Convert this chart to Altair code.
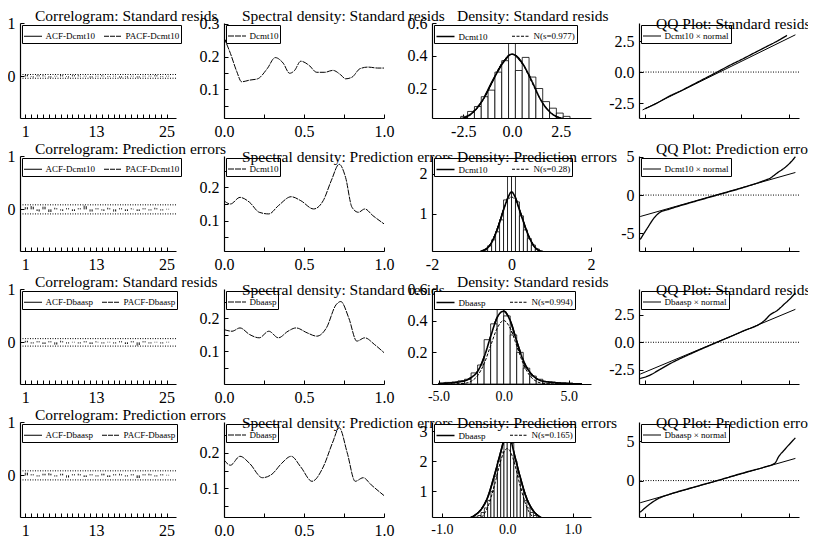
import altair as alt
import pandas as pd

FONT = "Liberation Serif"
WIDTHS = [156, 160, 159, 160]
H = 95
TITLE_DX = [15, 18, 25, 17]

names = ["Dcmt10", "Dcmt10", "Dbaasp", "Dbaasp"]
kinds = ["Standard resids", "Prediction errors", "Standard resids", "Prediction errors"]

# ---------------- correlograms ----------------
lags = list(range(1, 26))
acf_1 = [0.03, -0.01, 0.02, 0.02, -0.02, 0.01, 0.03, -0.01, 0.02, 0.02, 0.01, -0.02, 0.01,
         0.02, -0.01, 0.01, -0.02, -0.01, 0.01, -0.02, 0.01, 0.01, 0.02, -0.01, 0.01]
pacf_1 = [0.03, -0.02, 0.02, 0.01, -0.02, 0.01, 0.02, -0.02, 0.02, 0.01, 0.01, -0.02, 0.01,
          0.01, -0.01, 0.01, -0.02, -0.02, 0.01, -0.02, 0.01, 0.01, 0.02, -0.01, 0.01]
acf_2 = [0.04, 0.06, -0.03, 0.05, -0.05, 0.03, -0.02, 0.02, -0.03, 0.02, 0.07, -0.04, 0.02,
         -0.02, 0.03, -0.04, 0.02, -0.03, 0.02, -0.03, 0.02, -0.02, 0.03, -0.02, 0.01]
pacf_2 = [0.04, 0.05, -0.04, 0.05, -0.05, 0.02, -0.03, 0.02, -0.03, 0.02, 0.06, -0.04, 0.02,
          -0.03, 0.02, -0.04, 0.02, -0.03, 0.01, -0.03, 0.02, -0.02, 0.02, -0.02, 0.01]
acf_3 = [0.03, -0.02, 0.02, -0.03, 0.02, -0.04, 0.03, -0.02, 0.01, -0.02, 0.02, -0.03, 0.02,
         -0.02, 0.01, -0.02, 0.02, -0.03, 0.02, -0.06, 0.02, -0.02, 0.01, -0.02, 0.01]
pacf_3 = [0.03, -0.02, 0.02, -0.03, 0.02, -0.04, 0.02, -0.02, 0.01, -0.02, 0.02, -0.03, 0.01,
          -0.02, 0.01, -0.02, 0.02, -0.03, 0.02, -0.05, 0.02, -0.02, 0.01, -0.02, 0.01]
acf_4 = [0.05, 0.02, -0.02, 0.03, 0.04, -0.02, 0.03, -0.04, 0.02, 0.03, -0.03, 0.02, -0.02,
         0.03, -0.03, 0.02, 0.03, -0.02, 0.02, -0.05, 0.02, 0.03, -0.02, 0.02, 0.01]
pacf_4 = [0.05, 0.02, -0.02, 0.03, 0.03, -0.02, 0.03, -0.04, 0.02, 0.02, -0.03, 0.02, -0.02,
          0.03, -0.03, 0.02, 0.02, -0.02, 0.02, -0.05, 0.02, 0.02, -0.02, 0.02, 0.01]
acfs = [acf_1, acf_2, acf_3, acf_4]
pacfs = [pacf_1, pacf_2, pacf_3, pacf_4]
bands = [0.035, 0.085, 0.07, 0.085]
corr_ylabels = [0, 1]
corr_xlabels = [1, 13, 25]

# ---------------- spectral densities ----------------
spec_x_1 = [0.0, 0.04, 0.08, 0.11, 0.16, 0.21, 0.27, 0.32, 0.37, 0.41, 0.44, 0.48, 0.53,
            0.58, 0.63, 0.68, 0.73, 0.76, 0.8, 0.85, 0.9, 0.96, 1.0]
spec_y_1 = [0.258, 0.21, 0.154, 0.123, 0.128, 0.132, 0.163, 0.197, 0.18, 0.149, 0.157, 0.186,
            0.174, 0.152, 0.152, 0.158, 0.144, 0.132, 0.137, 0.163, 0.168, 0.165, 0.165]
spec_x_2 = [0.0, 0.04, 0.1, 0.16, 0.22, 0.28, 0.34, 0.42, 0.48, 0.56, 0.62, 0.67, 0.72,
            0.76, 0.8, 0.84, 0.88, 0.93, 1.0]
spec_y_2 = [0.16, 0.15, 0.17, 0.155, 0.125, 0.12, 0.145, 0.172, 0.16, 0.135, 0.16, 0.22,
            0.27, 0.23, 0.14, 0.125, 0.135, 0.115, 0.09]
spec_x_3 = [0.0, 0.05, 0.1, 0.16, 0.22, 0.28, 0.34, 0.4, 0.45, 0.52, 0.58, 0.64, 0.7,
            0.73, 0.78, 0.83, 0.88, 0.94, 1.0]
spec_y_3 = [0.165, 0.16, 0.17, 0.15, 0.14, 0.16, 0.14, 0.16, 0.17, 0.155, 0.145, 0.17, 0.24,
            0.25, 0.2, 0.13, 0.14, 0.12, 0.095]
spec_x_4 = [0.0, 0.04, 0.1, 0.16, 0.24, 0.3, 0.36, 0.42, 0.48, 0.55, 0.62, 0.68, 0.72,
            0.77, 0.82, 0.87, 0.92, 1.0]
spec_y_4 = [0.18, 0.165, 0.19, 0.17, 0.13, 0.14, 0.17, 0.19, 0.16, 0.12, 0.16, 0.23, 0.27,
            0.2, 0.12, 0.13, 0.11, 0.08]
spec_xs = [spec_x_1, spec_x_2, spec_x_3, spec_x_4]
spec_ys = [spec_y_1, spec_y_2, spec_y_3, spec_y_4]
spec_ydom = [[0.012, 0.303], [0.008, 0.295], [0.0, 0.288], [0.02, 0.286]]
spec_yticks = [[0.05, 0.1, 0.15, 0.2, 0.25, 0.3], [0.05, 0.1, 0.15, 0.2, 0.25],
               [0.05, 0.1, 0.15, 0.2, 0.25], [0.05, 0.1, 0.15, 0.2, 0.25]]
spec_ylabels = [[0.1, 0.2, 0.3], [0.1, 0.2], [0.1, 0.2], [0.1, 0.2]]
spec_xticks = [0, 0.25, 0.5, 0.75, 1.0]
spec_xlabels = [0, 0.5, 1.0]

# ---------------- densities ----------------
hist_c_1 = [-3.5, -3.15, -2.8, -2.45, -2.1, -1.75, -1.4, -1.05, -0.7, -0.35, 0.0, 0.35, 0.7,
            1.05, 1.4, 1.75, 2.1, 2.45, 2.8, 3.15, 3.5]
hist_h_1 = [0.005, 0.008, 0.015, 0.03, 0.06, 0.09, 0.15, 0.19, 0.30, 0.37, 0.50, 0.31, 0.39,
            0.27, 0.20, 0.12, 0.08, 0.05, 0.03, 0.01, 0.005]
hist_c_2 = [-0.95, -0.85, -0.75, -0.65, -0.55, -0.45, -0.35, -0.25, -0.15, -0.05, 0.05, 0.15,
            0.25, 0.35, 0.45, 0.55, 0.65, 0.75, 0.85, 0.95]
hist_h_2 = [0.02, 0.03, 0.05, 0.1, 0.2, 0.35, 0.55, 0.85, 1.35, 1.95, 2.0, 1.3, 0.95, 0.6,
            0.38, 0.22, 0.12, 0.06, 0.04, 0.02]
hist_c_3 = [-4.75, -4.25, -3.75, -3.25, -2.75, -2.25, -1.75, -1.25, -0.75, -0.25, 0.25, 0.75,
            1.25, 1.75, 2.25, 2.75, 3.25, 3.75, 4.25, 4.75]
hist_h_3 = [0.005, 0.01, 0.01, 0.02, 0.03, 0.07, 0.12, 0.28, 0.38, 0.52, 0.43, 0.31, 0.2,
            0.1, 0.05, 0.03, 0.015, 0.01, 0.005, 0.005]
hist_c_4 = [-0.575, -0.525, -0.475, -0.425, -0.375, -0.325, -0.275, -0.225, -0.175, -0.125,
            -0.075, -0.025, 0.025, 0.075, 0.125, 0.175, 0.225, 0.275, 0.325, 0.375, 0.425,
            0.475, 0.525, 0.575]
hist_h_4 = [0.05, 0.1, 0.15, 0.2, 0.3, 0.45, 0.7, 1.0, 1.5, 2.0, 2.3, 2.9, 3.1, 2.6, 2.0,
            1.5, 1.05, 0.7, 0.45, 0.3, 0.2, 0.12, 0.08, 0.05]
hist_cs = [hist_c_1, hist_c_2, hist_c_3, hist_c_4]
hist_hs = [hist_h_1, hist_h_2, hist_h_3, hist_h_4]
bin_w = [0.35, 0.1, 0.5, 0.05]

dens_x_1 = [-4.0, -3.5, -3.0, -2.5, -2.0, -1.5, -1.0, -0.5, 0.0, 0.5, 1.0, 1.5, 2.0, 2.5, 3.0, 3.5, 4.0]
dens_y_1 = [0.0, 0.004, 0.01, 0.02, 0.055, 0.13, 0.245, 0.35, 0.41, 0.36, 0.25, 0.125, 0.05,
            0.02, 0.01, 0.005, 0.0]
norm_y_1 = [0.0, 0.0006, 0.0036, 0.0155, 0.0503, 0.1256, 0.2415, 0.358, 0.408, 0.358, 0.2415,
            0.1256, 0.0503, 0.0155, 0.0036, 0.0006, 0.0]
dens_x_2 = [-1.6, -1.2, -1.0, -0.8, -0.7, -0.6, -0.5, -0.4, -0.3, -0.2, -0.1, 0.0, 0.1, 0.2,
            0.3, 0.4, 0.5, 0.6, 0.7, 0.8, 1.0, 1.2, 1.6]
dens_y_2 = [0.01, 0.015, 0.02, 0.05, 0.09, 0.15, 0.28, 0.5, 0.78, 1.1, 1.38, 1.55, 1.4, 1.1,
            0.8, 0.52, 0.3, 0.15, 0.08, 0.05, 0.025, 0.015, 0.01]
norm_y_2 = [0.0, 0.0, 0.0024, 0.024, 0.0625, 0.144, 0.29, 0.514, 0.803, 1.104, 1.336, 1.425,
            1.336, 1.104, 0.803, 0.514, 0.29, 0.144, 0.0625, 0.024, 0.0024, 0.0, 0.0]
dens_x_3 = [-5.0, -4.0, -3.0, -2.5, -2.0, -1.5, -1.0, -0.5, 0.0, 0.5, 1.0, 1.5, 2.0, 2.5, 3.0,
            4.0, 5.0, 6.0]
dens_y_3 = [0.002, 0.008, 0.02, 0.04, 0.08, 0.17, 0.3, 0.42, 0.46, 0.4, 0.27, 0.15, 0.075,
            0.035, 0.018, 0.008, 0.003, 0.001]
norm_y_3 = [0.0, 0.0001, 0.0042, 0.017, 0.053, 0.1285, 0.242, 0.352, 0.401, 0.352, 0.242,
            0.1285, 0.053, 0.017, 0.0042, 0.0001, 0.0, 0.0]
dens_x_4 = [-1.0, -0.8, -0.6, -0.5, -0.4, -0.3, -0.2, -0.1, -0.05, 0.0, 0.05, 0.1, 0.2, 0.3,
            0.4, 0.5, 0.6, 0.8, 1.0, 1.2]
dens_y_4 = [0.02, 0.03, 0.1, 0.2, 0.4, 0.8, 1.5, 2.3, 2.7, 2.95, 2.75, 2.3, 1.45, 0.75, 0.35,
            0.15, 0.07, 0.03, 0.02, 0.01]
norm_y_4 = [0.0, 0.0, 0.003, 0.025, 0.129, 0.464, 1.16, 2.01, 2.31, 2.418, 2.31, 2.01, 1.16,
            0.464, 0.129, 0.025, 0.003, 0.0, 0.0, 0.0]
dens_xs = [dens_x_1, dens_x_2, dens_x_3, dens_x_4]
dens_ys = [dens_y_1, dens_y_2, dens_y_3, dens_y_4]
norm_ys = [norm_y_1, norm_y_2, norm_y_3, norm_y_4]
norm_s = ["0.977", "0.28", "0.994", "0.165"]
dens_xdom = [[-4.1, 4.05], [-2.0, 2.0], [-5.5, 6.7], [-1.15, 1.28]]
dens_ydom = [[0.02, 0.6], [0.07, 2.45], [0.0, 0.6], [0.15, 3.3]]
dens_xlabels = [[-2.5, 0.0, 2.5], [-2, -1, 0, 1, 2], [-5.0, -2.5, 0.0, 2.5, 5.0], [-1.0, -0.5, 0.0, 0.5, 1.0]]
dens_xfmt = [".1f", "d", ".1f", ".1f"]
dens_xfont = [16, 16, 14, 14]
dens_ylabels = [[0.2, 0.4, 0.6], [1, 2], [0.2, 0.4, 0.6], [1, 2, 3]]
dens_yfmt = [".1f", "d", ".1f", "d"]

# ---------------- QQ plots ----------------
ref_x = [[-3.1, 3.25], [-3.2, 3.25], [-3.2, 3.25], [-3.2, 3.25]]
ref_y = [[-3.05, 3.0], [-2.8, 2.95], [-2.9, 3.0], [-2.8, 2.8]]
qq_x_1 = [-3.0, -2.5, -2.0, -1.5, -1.0, -0.5, 0.0, 0.5, 1.0, 1.5, 2.0, 2.5, 2.9]
qq_y_1 = [-2.95, -2.5, -1.95, -1.5, -1.0, -0.5, 0.0, 0.52, 1.0, 1.5, 2.0, 2.5, 2.95]
qq_x_2 = [-3.2, -2.9, -2.6, -2.4, -2.0, -1.0, 0.0, 1.0, 2.0, 2.2, 2.5, 2.78, 3.0, 3.25]
qq_y_2 = [-5.8, -4.3, -2.9, -2.3, -1.85, -0.9, 0.0, 0.9, 1.95, 2.2, 2.9, 3.5, 4.1, 5.0]
qq_x_3 = [-3.2, -2.8, -2.4, -2.0, -1.0, 0.0, 1.0, 2.0, 2.2, 2.5, 2.8, 3.0, 3.25]
qq_y_3 = [-3.3, -3.0, -2.5, -2.0, -0.95, 0.0, 0.95, 2.05, 2.5, 2.9, 3.5, 3.9, 4.5]
qq_x_4 = [-3.2, -2.9, -2.4, -2.0, -1.0, 0.0, 1.0, 2.0, 2.4, 2.55, 2.8, 3.25]
qq_y_4 = [-4.0, -3.2, -2.2, -1.75, -0.85, 0.0, 0.9, 1.75, 2.2, 3.0, 3.9, 5.4]
qq_xs = [qq_x_1, qq_x_2, qq_x_3, qq_x_4]
qq_ys = [qq_y_1, qq_y_2, qq_y_3, qq_y_4]
qq_ydom = [[-3.7, 3.95], [-7.3, 5.1], [-3.8, 4.85], [-4.6, 7.4]]
qq_yticks = [[-2.5, -1.25, 0.0, 1.25, 2.5, 3.75], [-5, -2.5, 0, 2.5, 5], [-2.5, -1.25, 0.0, 1.25, 2.5, 3.75],
             [0, 5]]
qq_ylabels = [[-2.5, 0.0, 2.5], [-5, 0, 5], [-2.5, 0.0, 2.5], [0, 5]]
qq_yfmt = [".1f", "d", ".1f", "d"]
qq_xticks = [-3.0, -2.5, -2.0, -1.5, -1.0, -0.5, 0.0, 0.5, 1.0, 1.5, 2.0, 2.5, 3.0]
qq_xlabels = [-2.5, 0.0, 2.5]


def axis(values, labeled, fmt, orient, size=16):
    kw = {}
    if list(values) != list(labeled):
        arr = "[" + ",".join(repr(float(v)) for v in labeled) + "]"
        kw["labelExpr"] = "indexof(" + arr + ", datum.value) >= 0 ? datum.label : ''"
    return alt.Axis(values=values, format=fmt, title=None, grid=False, orient=orient,
                    tickSize={"expr": "-4"}, labelPadding=9, labelOverlap=False, labelSeparation=-60,
                    labelFlush=False, labelBound=False, labelFont=FONT, labelFontSize=size, **kw)


def legend(col_pad):
    return alt.Legend(title=None, orient="top-left", direction="horizontal", offset=2,
                      strokeColor="black", fillColor="white", padding=1.5,
                      labelFont=FONT, labelFontSize=9, labelColor="black", labelOffset=3,
                      symbolType="stroke", symbolSize=324, symbolStrokeWidth=1,
                      symbolStrokeColor="black", columnPadding=col_pad, cornerRadius=0)


def title(text, col):
    return alt.TitleParams(text=text, anchor="start", frame="group", dx=TITLE_DX[col], offset=-21,
                           baseline="alphabetic", font=FONT, fontSize=15.5,
                           fontWeight="normal", color="black")


def correlogram(r):
    nm = names[r]
    dash_dom = ["ACF-" + nm, "PACF-" + nm]
    df = pd.DataFrame({"lag": lags + lags, "value": acfs[r] + pacfs[r],
                       "series": [dash_dom[0]] * 25 + [dash_dom[1]] * 25})
    bdf = pd.DataFrame({"band": [bands[r], -bands[r]]})
    ys = alt.Scale(domain=[-0.78, 1.0], nice=False, zero=False)
    spikes = alt.Chart(df).transform_calculate(
        xpos="datum.lag + (indexof(datum.series, 'PACF') == 0 ? 0.35 : 0)"
    ).mark_rule(color="black", strokeWidth=1).encode(
        x=alt.X("xpos:Q", scale=alt.Scale(domain=[0.1, 26.6], nice=False, zero=False),
                axis=axis(lags, corr_xlabels, "d", "bottom")),
        y=alt.Y("value:Q", scale=ys, axis=axis(corr_ylabels, corr_ylabels, "d", "left")), y2=alt.datum(0),
        strokeDash=alt.StrokeDash("series:N", scale=alt.Scale(domain=dash_dom, range=[[1, 0], [5, 1]]),
                                  legend=legend(6)))
    band = alt.Chart(bdf).mark_rule(color="black", strokeDash=[1, 1.5], strokeWidth=1).encode(
        y=alt.Y("band:Q", scale=ys))
    return alt.layer(spikes, band).properties(
        width=WIDTHS[0], height=H, title=title("Correlogram: " + kinds[r], 0))


def spectral(r):
    nm = names[r]
    df = pd.DataFrame({"f": spec_xs[r], "d": spec_ys[r], "series": nm})
    return alt.Chart(df).mark_line(color="black", strokeWidth=1, interpolate="monotone", clip=True).encode(
        x=alt.X("f:Q", scale=alt.Scale(domain=[0, 1], nice=False),
                axis=axis(spec_xticks, spec_xlabels, ".1f", "bottom")),
        y=alt.Y("d:Q", scale=alt.Scale(domain=spec_ydom[r], nice=False, zero=False),
                axis=axis(spec_yticks[r], spec_ylabels[r], ".1f", "left")),
        strokeDash=alt.StrokeDash("series:N", scale=alt.Scale(domain=[nm], range=[[6, 1]]),
                                  legend=legend(10)),
    ).properties(width=WIDTHS[1], height=H, title=title("Spectral density: " + kinds[r], 1))


def density(r):
    nm = names[r]
    nlab = "N(s=" + norm_s[r] + ")"
    hdf = pd.DataFrame({"c": hist_cs[r], "h": hist_hs[r], "w": bin_w[r]})
    n = len(dens_xs[r])
    ldf = pd.DataFrame({"x": dens_xs[r] + dens_xs[r], "y": dens_ys[r] + norm_ys[r],
                        "series": [nm] * n + [nlab] * n})
    xs = alt.Scale(domain=dens_xdom[r], nice=False, zero=False)
    ys = alt.Scale(domain=dens_ydom[r], nice=False, zero=False)
    bars = alt.Chart(hdf).transform_calculate(
        x1="datum.c - datum.w / 2", x2="datum.c + datum.w / 2"
    ).mark_bar(fill="white", stroke="black", strokeWidth=0.8, clip=True).encode(
        x=alt.X("x1:Q", scale=xs), x2="x2:Q",
        y=alt.Y("h:Q", scale=ys), y2=alt.datum(0))
    lines = alt.Chart(ldf).mark_line(color="black", interpolate="monotone", clip=True).encode(
        x=alt.X("x:Q", scale=xs,
                axis=axis(dens_xlabels[r], dens_xlabels[r], dens_xfmt[r], "bottom", dens_xfont[r])),
        y=alt.Y("y:Q", scale=ys, axis=axis(dens_ylabels[r], dens_ylabels[r], dens_yfmt[r], "left")),
        strokeDash=alt.StrokeDash("series:N", scale=alt.Scale(domain=[nm, nlab], range=[[1, 0], [3, 1.5]]),
                                  legend=legend(22)),
        strokeWidth=alt.StrokeWidth("series:N", scale=alt.Scale(domain=[nm, nlab], range=[1.6, 1]),
                                    legend=None),
    )
    return alt.layer(lines, bars, lines).properties(
        width=WIDTHS[2], height=H, title=title("Density: " + kinds[r], 2))


def qqplot(r):
    nm = names[r]
    lab = nm + " \u00d7 normal"
    xs = alt.Scale(domain=[-3.25, 3.4], nice=False, zero=False)
    ys = alt.Scale(domain=qq_ydom[r], nice=False, zero=False)
    rdf = pd.DataFrame({"x": ref_x[r], "y": ref_y[r]})
    qdf = pd.DataFrame({"x": qq_xs[r], "y": qq_ys[r], "series": lab})
    zdf = pd.DataFrame({"z": [0.0]})
    data = alt.Chart(qdf).mark_line(color="black", strokeWidth=1.3, interpolate="monotone", clip=True).encode(
        x=alt.X("x:Q", scale=xs, axis=axis(qq_xticks, qq_xlabels, ".1f", "bottom")),
        y=alt.Y("y:Q", scale=ys, axis=axis(qq_yticks[r], qq_ylabels[r], qq_yfmt[r], "left")),
        strokeDash=alt.StrokeDash("series:N", scale=alt.Scale(domain=[lab], range=[[1, 0]]),
                                  legend=legend(10)))
    zero = alt.Chart(zdf).mark_rule(color="black", strokeDash=[1, 1.5], strokeWidth=1).encode(
        y=alt.Y("z:Q", scale=ys))
    ref = alt.Chart(rdf).mark_line(color="black", strokeWidth=1, clip=True).encode(
        x=alt.X("x:Q", scale=xs), y=alt.Y("y:Q", scale=ys))
    return alt.layer(data, zero, ref).properties(
        width=WIDTHS[3], height=H, title=title("QQ Plot: " + kinds[r], 3))


panels = []
for r in range(4):
    panels += [correlogram(r), spectral(r), density(r), qqplot(r)]

chart = alt.concat(*panels, columns=4, spacing={"row": 38, "column": 48}, bounds="flush").resolve_scale(
    strokeDash="independent", strokeWidth="independent"
).resolve_legend(strokeDash="independent", strokeWidth="independent").properties(
    padding={"left": -1, "top": 0, "right": -12, "bottom": 0}
).configure(
    background="white",
    locale={"number": {"decimal": ".", "thousands": ",", "grouping": [3],
                       "currency": ["", ""], "minus": "-"}}
).configure_view(stroke=None).configure_axis(
    domainColor="black", tickColor="black", labelColor="black", labelFont=FONT,
    labelFontSize=16, domainWidth=1.2, tickWidth=1, labelOverlap=False, labelSeparation=-60
)

chart.save("out.html", embed_options={"renderer": "svg", "actions": False})
